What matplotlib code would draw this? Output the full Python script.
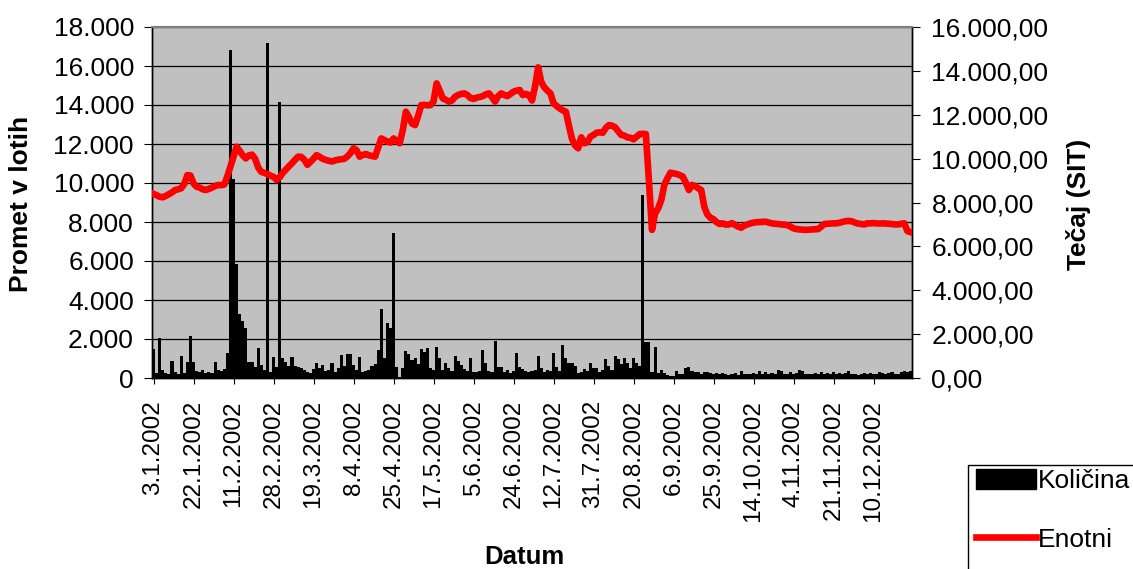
import matplotlib.pyplot as plt
import numpy as np
import pandas as pd
from matplotlib.ticker import FuncFormatter, MultipleLocator, FixedLocator
from matplotlib.patches import Rectangle
from matplotlib.lines import Line2D

plt.rcParams['font.family'] = ['Liberation Sans', 'DejaVu Sans']

# Trading days of 2002 (Ljubljana stock exchange closed on these days)
holidays = ['2002-02-08', '2002-04-01', '2002-04-30', '2002-05-01', '2002-05-02',
            '2002-06-25', '2002-08-15', '2002-10-31', '2002-11-01',
            '2002-12-25', '2002-12-26', '2002-12-31']
dates = pd.bdate_range('2002-01-03', '2002-12-31')
dates = dates[~dates.isin(pd.to_datetime(holidays))]

# Daily volume (Količina, lots)
kolicina = [
    1470, 280, 2030, 400, 250, 200, 870, 320, 180, 1150,
    250, 800, 2150, 800, 360, 300, 420, 280, 320, 240,
    840, 420, 380, 480, 1270, 16820, 10190, 5830, 3260, 2940,
    2550, 840, 800, 560, 1550, 670, 420, 17160, 320, 1090,
    580, 14170, 1010, 840, 620, 1060, 600, 580, 500, 420,
    300, 260, 450, 790, 520, 670, 380, 400, 750, 320,
    520, 1180, 600, 1210, 1210, 650, 420, 1060, 300, 380,
    420, 615, 700, 1435, 3520, 1010, 2840, 2550, 7450, 580,
    60, 500, 1400, 1230, 920, 1010, 700, 1470, 1350, 1520,
    500, 420, 1600, 1010, 420, 750, 500, 380, 1145, 870,
    670, 450, 350, 1010, 320, 300, 340, 1435, 790, 380,
    300, 1900, 580, 560, 300, 410, 250, 380, 1265, 550,
    440, 380, 300, 350, 400, 1130, 520, 320, 420, 350,
    1300, 560, 380, 1690, 1040, 750, 750, 600, 280, 300,
    450, 350, 790, 500, 500, 300, 420, 970, 600, 420,
    1130, 957, 700, 1040, 750, 520, 1010, 750, 600, 9400,
    1830, 1830, 320, 1570, 240, 410, 270, 150, 100, 120,
    376, 200, 180, 500, 580, 360, 320, 300, 200, 320,
    300, 240, 200, 240, 180, 240, 220, 160, 200, 240,
    160, 376, 200, 180, 220, 250, 200, 380, 220, 300,
    200, 240, 180, 410, 380, 200, 180, 300, 200, 240,
    410, 350, 200, 180, 200, 250, 200, 300, 220, 250,
    180, 300, 200, 240, 200, 280, 376, 220, 200, 150,
    200, 250, 200, 250, 220, 200, 300, 240, 200, 240,
    300, 200, 220, 320, 340, 300, 340,
]

# Unit price (Enotni tečaj, SIT)
enotni = [
    8390, 8330, 8260, 8240, 8300, 8380, 8460, 8570, 8600, 8650,
    8850, 9250, 9230, 8870, 8720, 8680, 8600, 8570, 8620, 8680,
    8750, 8800, 8790, 8820, 9200, 9650, 10100, 10540, 10350, 10150,
    10010, 10150, 10180, 10000, 9600, 9400, 9350, 9300, 9220, 9170,
    9030, 9150, 9350, 9500, 9650, 9790, 9950, 10090, 10080, 9950,
    9720, 9850, 10000, 10160, 10080, 9990, 9940, 9900, 9870, 9920,
    9950, 9970, 9990, 10100, 10250, 10470, 10380, 10090, 10170, 10210,
    10150, 10120, 10090, 10500, 10920, 10850, 10780, 10730, 10920, 10800,
    10700, 11300, 12140, 11900, 11600, 11530, 11950, 12440, 12450, 12430,
    12440, 12600, 13430, 13100, 12750, 12680, 12600, 12650, 12820, 12900,
    12950, 12975, 12900, 12760, 12720, 12780, 12810, 12850, 12930, 12975,
    12800, 12600, 12850, 12975, 12900, 12850, 12950, 13050, 13100, 13130,
    12900, 12950, 12900, 12650, 13300, 14160, 13500, 13250, 13100, 12975,
    12520, 12400, 12290, 12200, 12140, 11500, 10900, 10600, 10470, 10970,
    10700, 10750, 11000, 11080, 11180, 11200, 11180, 11400, 11530, 11500,
    11430, 11250, 11080, 11050, 10970, 10950, 10880, 11000, 11120, 11130,
    11120, 9000, 6750, 7500, 7730, 8110, 8800, 9100, 9360, 9330,
    9300, 9250, 9180, 8900, 8570, 8800, 8750, 8650, 8570, 7800,
    7450, 7300, 7240, 7100, 7020, 7050, 6990, 7000, 7060, 6980,
    6900, 6850, 6950, 7000, 7050, 7080, 7100, 7110, 7120, 7125,
    7080, 7050, 7030, 7020, 7000, 6990, 6970, 6900, 6820, 6790,
    6770, 6760, 6750, 6760, 6770, 6780, 6790, 6900, 7020, 7030,
    7040, 7050, 7050, 7080, 7120, 7150, 7160, 7140, 7080, 7040,
    7020, 7000, 7050, 7050, 7060, 7050, 7040, 7050, 7040, 7030,
    7020, 7000, 7000, 7030, 7050, 6700, 6650,
]

assert len(dates) == len(kolicina) == len(enotni)

x = np.arange(len(dates))
tick_idx = x[::13]
tick_labels = [f"{d.day}.{d.month}.{d.year}" for d in dates[tick_idx]]


def left_fmt(v, pos):
    return f"{int(round(v)):,}".replace(",", ".")


def right_fmt(v, pos):
    s = f"{v:,.2f}"
    return s.replace(",", "X").replace(".", ",").replace("X", ".")


W, H = 1133, 569
fig = plt.figure(figsize=(W / 100, H / 100), dpi=100)
ax = fig.add_axes([152 / W, 191 / H, 760 / W, 351 / H])
ax.set_facecolor('#C0C0C0')

ax.bar(x, kolicina, width=1.0, color='black', linewidth=0, zorder=2)
ax.set_xlim(-0.5, len(x) - 0.5)
ax.set_ylim(0, 18000)
ax.yaxis.set_major_locator(MultipleLocator(2000))
ax.yaxis.set_major_formatter(FuncFormatter(left_fmt))
ax.yaxis.grid(True, color='black', linewidth=0.9)
ax.set_axisbelow(True)

ax2 = ax.twinx()
ax2.plot(x, enotni, color='#FF0000', linewidth=4.8, solid_joinstyle='round', zorder=3)
ax2.set_ylim(0, 16000)
ax2.yaxis.set_major_locator(MultipleLocator(2000))
ax2.yaxis.set_major_formatter(FuncFormatter(right_fmt))

ax.xaxis.set_major_locator(FixedLocator(tick_idx))
ax.set_xticklabels(tick_labels, rotation=90, fontsize=17.5)
ax.tick_params(axis='x', length=4, width=0.8, pad=12)
ax.tick_params(axis='y', direction='out', length=6, width=0.8, pad=7, labelsize=19)
ax2.tick_params(axis='y', direction='out', length=6, width=0.8, pad=8, labelsize=19)

for a in (ax, ax2):
    for side in ('left', 'right', 'bottom'):
        a.spines[side].set_color('black')
        a.spines[side].set_linewidth(1.0)
    a.spines['top'].set_color('#808080')
    a.spines['top'].set_linewidth(1.5)

ax.set_ylabel('Promet v lotih', fontsize=19, fontweight='bold')
ax.yaxis.set_label_coords(-0.157, 0.496)
ax2.set_ylabel('Tečaj (SIT)', fontsize=19, fontweight='bold')
ax2.yaxis.set_label_coords(1.2026, 0.496)
ax.set_xlabel('Datum', fontsize=18.5, fontweight='bold')
ax.xaxis.set_label_coords(0.49, -0.475)

# legend box sits in the lower right corner, partly cut off by the figure edge
fig.add_artist(Rectangle((968 / W, -0.05), 0.2, (569 - 465) / H + 0.05,
                         transform=fig.transFigure, facecolor='white',
                         edgecolor='black', linewidth=1.0))
handles = [Rectangle((0, 0), 1, 1, facecolor='black', edgecolor='black'),
           Line2D([0], [0], color='#FF0000', linewidth=4.8)]
fig.legend(handles, ['Količina', 'Enotni'], loc='upper left',
           bbox_to_anchor=(971 / W, 1 - 464 / H), frameon=False, fontsize=19,
           handlelength=2.25, handleheight=0.75, handletextpad=0.1,
           labelspacing=1.3, borderpad=0.2, borderaxespad=0)

fig.savefig('out.png', dpi=100)
